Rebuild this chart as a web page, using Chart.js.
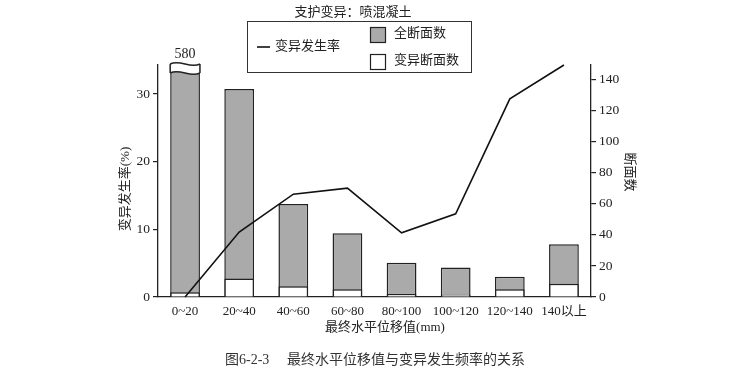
<!DOCTYPE html>
<html lang="zh-CN">
<head>
    <meta charset="UTF-8">
    <title>最终水平位移值与变异发生频率的关系</title>
    <script src="https://cdn.jsdelivr.net/npm/chart.js"></script>
    <style>
        html, body { margin: 0; padding: 0; background: #fff; }
        .caixa { width: 746px; height: 372px; }
    </style>
</head>
<body>
    <div class="caixa">
        <canvas id="grafico"></canvas>
    </div>

<script>
    // dados
    const categorias = ['0~20', '20~40', '40~60', '60~80', '80~100', '100~120', '120~140', '140以上'];
    const taxaVariacao = [0, 9.6, 15.2, 16.1, 9.5, 12.3, 29.3, 34.3];   // 变异发生率 (%)
    const totalSecoes = [580, 134, 60, 41, 22, 19, 13, 34];            // 全断面数
    const secoesVariacao = [3, 12, 7, 5, 2, 1.5, 5, 8.5];              // 变异断面数
    const ticksEsquerda = [0, 10, 20, 30];
    const ticksDireita = [0, 20, 40, 60, 80, 100, 120, 140];

    const fonte = '"Liberation Serif", "Noto Sans CJK SC", serif';
    const corTexto = '#222';
    const cinza = '#aaaaaa';

    // onda usada na quebra da barra
    function onda(c, x, w, y, a) {
        c.moveTo(x, y);
        c.bezierCurveTo(x + w / 3, y - a, x + 2 * w / 3, y + a, x + w, y);
    }

    // titulo, legenda, titulos dos eixos, legenda da figura e a quebra da primeira barra
    const extras = {
        id: 'extras',
        afterDatasetsDraw(chart) {
            const ctx = chart.ctx;
            const area = chart.chartArea;
            ctx.save();

            // quebra na barra 0~20
            const barra = chart.getDatasetMeta(0).data[0];
            const bx = barra.x - barra.width / 2;
            const w = barra.width;
            const yA = area.top - 1, yB = area.top + 8;
            ctx.beginPath();
            onda(ctx, bx, w, yA, 5);
            ctx.lineTo(bx + w, yB);
            ctx.bezierCurveTo(bx + 2 * w / 3, yB + 5, bx + w / 3, yB - 5, bx, yB);
            ctx.closePath();
            ctx.fillStyle = '#fff';
            ctx.fill();
            ctx.strokeStyle = corTexto;
            ctx.lineWidth = 1.5;
            ctx.beginPath();
            onda(ctx, bx, w, yA, 5);
            onda(ctx, bx, w, yB, 5);
            ctx.moveTo(bx, yA); ctx.lineTo(bx, yB);
            ctx.moveTo(bx + w, yA); ctx.lineTo(bx + w, yB);
            ctx.stroke();

            ctx.fillStyle = corTexto;
            ctx.textAlign = 'center';
            ctx.textBaseline = 'middle';
            ctx.font = '14px ' + fonte;
            ctx.fillText(String(totalSecoes[0]), barra.x, 54);

            // titulo
            ctx.font = '13px ' + fonte;
            ctx.fillText('支护变异：喷混凝土', 353, 13);

            // caixa da legenda
            ctx.lineWidth = 1;
            ctx.strokeStyle = '#333';
            ctx.strokeRect(247.5, 21.5, 224, 51);
            ctx.lineWidth = 1.6;
            ctx.strokeStyle = '#111';
            ctx.beginPath();
            ctx.moveTo(257, 47);
            ctx.lineTo(270, 47);
            ctx.stroke();
            ctx.fillStyle = cinza;
            ctx.fillRect(370, 27, 16, 16);
            ctx.lineWidth = 1.2;
            ctx.strokeStyle = '#222';
            ctx.strokeRect(370.5, 27.5, 15, 15);
            ctx.strokeRect(370.5, 54.5, 15, 15);
            ctx.fillStyle = corTexto;
            ctx.textAlign = 'left';
            ctx.fillText('变异发生率', 275, 47);
            ctx.fillText('全断面数', 394, 34);
            ctx.fillText('变异断面数', 394, 61);

            // titulo do eixo x
            ctx.textAlign = 'center';
            ctx.fillText('最终水平位移值(mm)', 385, 328);

            // titulos dos eixos y
            ctx.save();
            ctx.translate(126, 189);
            ctx.rotate(-Math.PI / 2);
            ctx.fillText('变异发生率(%)', 0, 0);
            ctx.restore();
            ctx.save();
            ctx.translate(629, 172);
            ctx.rotate(Math.PI / 2);
            ctx.fillText('断面数', 0, 0);
            ctx.restore();

            // legenda da figura
            ctx.font = '14px ' + fonte;
            ctx.fillStyle = '#333';
            ctx.textAlign = 'left';
            ctx.fillText('图6-2-3', 225, 360);
            ctx.fillText('最终水平位移值与变异发生频率的关系', 287, 360);

            ctx.restore();
        }
    };

    const ctx = document.getElementById('grafico').getContext('2d');
    const grafico = new Chart(ctx, {
        data: {
            labels: categorias,
            datasets: [
                {
                    type: 'bar',
                    label: '全断面数',
                    data: totalSecoes,
                    yAxisID: 'y1',
                    backgroundColor: cinza,
                    borderColor: corTexto,
                    borderWidth: 1.5,
                    grouped: false,
                    barPercentage: 0.55,
                    categoryPercentage: 1,
                    order: 3
                },
                {
                    type: 'bar',
                    label: '变异断面数',
                    data: secoesVariacao,
                    yAxisID: 'y1',
                    backgroundColor: '#fff',
                    borderColor: corTexto,
                    borderWidth: 1.5,
                    grouped: false,
                    barPercentage: 0.55,
                    categoryPercentage: 1,
                    order: 2
                },
                {
                    type: 'line',
                    label: '变异发生率',
                    data: taxaVariacao,
                    yAxisID: 'y',
                    borderColor: '#111',
                    borderWidth: 1.6,
                    pointRadius: 0,
                    tension: 0,
                    fill: false,
                    clip: 4,
                    order: 1
                }
            ]
        },
        options: {
            responsive: true,
            maintainAspectRatio: false,
            animation: false,
            layout: { padding: { top: 65, left: 0, right: 0, bottom: 0 } },
            plugins: {
                legend: { display: false },
                title: { display: false },
                tooltip: { enabled: false }
            },
            scales: {
                x: {
                    offset: true,
                    grid: { display: false, drawTicks: false },
                    border: { display: true, color: corTexto, width: 1.3 },
                    ticks: {
                        color: corTexto,
                        font: { size: 13, family: fonte },
                        padding: 7,
                        autoSkip: false,
                        maxRotation: 0
                    },
                    afterFit: function (s) { s.height = 75; }
                },
                y: {
                    position: 'left',
                    min: 0,
                    max: 34.3,
                    grid: { drawOnChartArea: false, drawTicks: true, tickLength: 5, color: corTexto, lineWidth: 1.2 },
                    border: { display: true, color: corTexto, width: 1.3 },
                    ticks: { color: corTexto, font: { size: 13.5, family: fonte }, padding: 3 },
                    afterBuildTicks: function (s) { s.ticks = ticksEsquerda.map(v => ({ value: v })); },
                    afterFit: function (s) { s.width = 158; }
                },
                y1: {
                    position: 'right',
                    min: 0,
                    max: 149.5,
                    grid: { drawOnChartArea: false, drawTicks: true, tickLength: 5, color: corTexto, lineWidth: 1.2 },
                    border: { display: true, color: corTexto, width: 1.3 },
                    ticks: { color: corTexto, font: { size: 13.5, family: fonte }, padding: 3 },
                    afterBuildTicks: function (s) { s.ticks = ticksDireita.map(v => ({ value: v })); },
                    afterFit: function (s) { s.width = 155; }
                }
            }
        },
        plugins: [extras]
    });
</script>
</body>
</html>
